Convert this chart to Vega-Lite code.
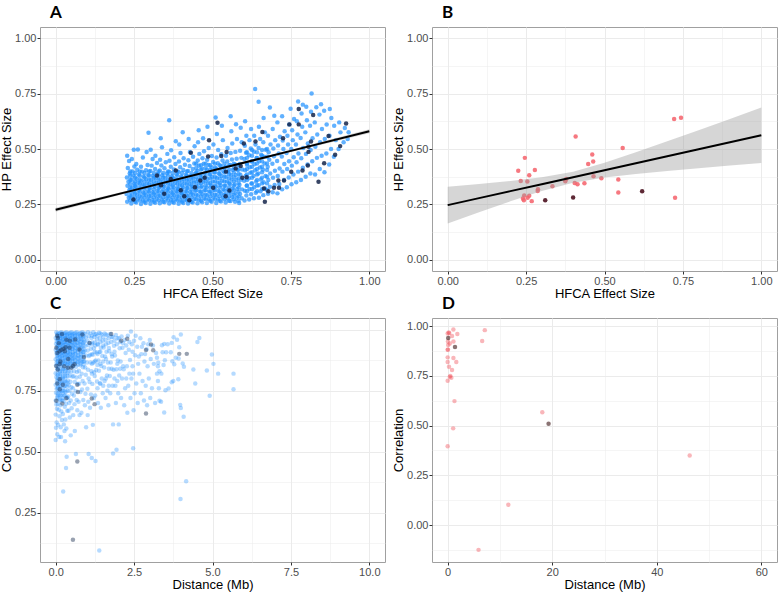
{
"$schema":"https://vega.github.io/schema/vega-lite/v6.json",
"background":"white",
"padding":{"left":0,"top":3,"right":0,"bottom":0},
"config":{
 "view":{"stroke":"#a0a0a0","strokeWidth":1},
 "axis":{"domain":false,"gridColor":"#ebebeb","tickColor":"#333333","tickSize":3,"labelPadding":1,"labelFont":"Liberation Sans","labelFontSize":11,"labelColor":"#4d4d4d","titleFont":"Liberation Sans","titleFontSize":13,"titleFontWeight":"normal","titleColor":"#000000","titlePadding":1,"labelOverlap":false,"labelFlush":false},
 "title":{"anchor":"start","frame":"group","font":"Lato","fontSize":17,"fontWeight":"bold","color":"#000000","dx":10,"offset":5.5},
 "circle":{"size":20,"strokeWidth":0}
},
"datasets":{
"aL":[
{"x":0.228,"y":0.262},{"x":0.233,"y":0.28},{"x":0.226,"y":0.297},{"x":0.235,"y":0.315},{"x":0.229,"y":0.334},{"x":0.232,"y":0.352},{"x":0.227,"y":0.372},{"x":0.236,"y":0.39},{"x":0.23,"y":0.414},{"x":0.234,"y":0.446},{"x":0.228,"y":0.47},
{"x":0.241,"y":0.254},{"x":0.247,"y":0.272},{"x":0.243,"y":0.29},{"x":0.249,"y":0.307},{"x":0.244,"y":0.326},{"x":0.25,"y":0.344},{"x":0.242,"y":0.361},{"x":0.248,"y":0.38},{"x":0.245,"y":0.399},{"x":0.251,"y":0.421},{"x":0.243,"y":0.455},{"x":0.249,"y":0.497},
{"x":0.257,"y":0.259},{"x":0.262,"y":0.276},{"x":0.259,"y":0.294},{"x":0.264,"y":0.312},{"x":0.256,"y":0.33},{"x":0.263,"y":0.348},{"x":0.258,"y":0.366},{"x":0.265,"y":0.385},{"x":0.26,"y":0.406},{"x":0.257,"y":0.432},{"x":0.262,"y":0.498},
{"x":0.272,"y":0.252},{"x":0.278,"y":0.268},{"x":0.274,"y":0.285},{"x":0.279,"y":0.303},{"x":0.271,"y":0.321},{"x":0.277,"y":0.339},{"x":0.273,"y":0.357},{"x":0.28,"y":0.376},{"x":0.275,"y":0.398},{"x":0.272,"y":0.42},{"x":0.278,"y":0.462},
{"x":0.287,"y":0.257},{"x":0.293,"y":0.273},{"x":0.288,"y":0.291},{"x":0.294,"y":0.309},{"x":0.286,"y":0.327},{"x":0.292,"y":0.345},{"x":0.289,"y":0.364},{"x":0.295,"y":0.383},{"x":0.288,"y":0.404},{"x":0.293,"y":0.428},{"x":0.29,"y":0.486},{"x":0.296,"y":0.573},
{"x":0.302,"y":0.253},{"x":0.308,"y":0.27},{"x":0.303,"y":0.288},{"x":0.309,"y":0.305},{"x":0.301,"y":0.323},{"x":0.307,"y":0.341},{"x":0.304,"y":0.36},{"x":0.31,"y":0.379},{"x":0.302,"y":0.401},{"x":0.306,"y":0.425},{"x":0.309,"y":0.455},{"x":0.303,"y":0.497},
{"x":0.317,"y":0.258},{"x":0.322,"y":0.275},{"x":0.318,"y":0.293},{"x":0.324,"y":0.311},{"x":0.316,"y":0.33},{"x":0.321,"y":0.348},{"x":0.319,"y":0.368},{"x":0.325,"y":0.388},{"x":0.317,"y":0.41},{"x":0.323,"y":0.437},{"x":0.318,"y":0.47},
{"x":0.332,"y":0.255},{"x":0.338,"y":0.272},{"x":0.333,"y":0.289},{"x":0.339,"y":0.307},{"x":0.331,"y":0.326},{"x":0.336,"y":0.344},{"x":0.334,"y":0.362},{"x":0.34,"y":0.382},{"x":0.332,"y":0.403},{"x":0.337,"y":0.426},{"x":0.333,"y":0.452},{"x":0.339,"y":0.508},{"x":0.335,"y":0.548},
{"x":0.347,"y":0.26},{"x":0.353,"y":0.277},{"x":0.348,"y":0.295},{"x":0.354,"y":0.313},{"x":0.346,"y":0.331},{"x":0.352,"y":0.35},{"x":0.349,"y":0.369},{"x":0.355,"y":0.39},{"x":0.347,"y":0.413},{"x":0.351,"y":0.44},{"x":0.356,"y":0.478},
{"x":0.362,"y":0.254},{"x":0.368,"y":0.27},{"x":0.363,"y":0.287},{"x":0.369,"y":0.304},{"x":0.361,"y":0.322},{"x":0.366,"y":0.34},{"x":0.364,"y":0.358},{"x":0.37,"y":0.377},{"x":0.362,"y":0.398},{"x":0.367,"y":0.42},{"x":0.363,"y":0.447},{"x":0.368,"y":0.494},{"x":0.362,"y":0.63},
{"x":0.377,"y":0.258},{"x":0.383,"y":0.274},{"x":0.378,"y":0.292},{"x":0.384,"y":0.31},{"x":0.376,"y":0.328},{"x":0.381,"y":0.347},{"x":0.379,"y":0.366},{"x":0.385,"y":0.386},{"x":0.377,"y":0.408},{"x":0.382,"y":0.432},{"x":0.378,"y":0.463},{"x":0.383,"y":0.535},
{"x":0.392,"y":0.253},{"x":0.398,"y":0.269},{"x":0.393,"y":0.286},{"x":0.399,"y":0.303},{"x":0.391,"y":0.321},{"x":0.396,"y":0.339},{"x":0.394,"y":0.357},{"x":0.4,"y":0.376},{"x":0.392,"y":0.396},{"x":0.397,"y":0.418},{"x":0.393,"y":0.444},{"x":0.398,"y":0.482},{"x":0.394,"y":0.52},
{"x":0.407,"y":0.257},{"x":0.413,"y":0.273},{"x":0.408,"y":0.291},{"x":0.414,"y":0.309},{"x":0.406,"y":0.327},{"x":0.411,"y":0.345},{"x":0.409,"y":0.364},{"x":0.415,"y":0.384},{"x":0.407,"y":0.405},{"x":0.412,"y":0.429},{"x":0.408,"y":0.458},{"x":0.405,"y":0.576},
{"x":0.422,"y":0.254},{"x":0.428,"y":0.27},{"x":0.423,"y":0.288},{"x":0.429,"y":0.306},{"x":0.421,"y":0.324},{"x":0.426,"y":0.342},{"x":0.424,"y":0.361},{"x":0.43,"y":0.38},{"x":0.422,"y":0.401},{"x":0.427,"y":0.423},{"x":0.423,"y":0.449},{"x":0.428,"y":0.486},{"x":0.424,"y":0.545},
{"x":0.437,"y":0.259},{"x":0.443,"y":0.276},{"x":0.438,"y":0.294},{"x":0.444,"y":0.312},{"x":0.436,"y":0.33},{"x":0.441,"y":0.349},{"x":0.439,"y":0.368},{"x":0.445,"y":0.388},{"x":0.437,"y":0.41},{"x":0.442,"y":0.435},{"x":0.438,"y":0.465},{"x":0.443,"y":0.512},
{"x":0.452,"y":0.255},{"x":0.458,"y":0.272},{"x":0.453,"y":0.29},{"x":0.459,"y":0.308},{"x":0.451,"y":0.326},{"x":0.456,"y":0.344},{"x":0.454,"y":0.363},{"x":0.46,"y":0.382},{"x":0.452,"y":0.402},{"x":0.457,"y":0.424},{"x":0.453,"y":0.448},{"x":0.458,"y":0.478},{"x":0.454,"y":0.53},{"x":0.456,"y":0.585},
{"x":0.467,"y":0.26},{"x":0.473,"y":0.278},{"x":0.468,"y":0.296},{"x":0.474,"y":0.314},{"x":0.466,"y":0.332},{"x":0.471,"y":0.351},{"x":0.469,"y":0.37},{"x":0.475,"y":0.39},{"x":0.467,"y":0.411},{"x":0.472,"y":0.434},{"x":0.468,"y":0.458},{"x":0.473,"y":0.49},{"x":0.47,"y":0.548},
{"x":0.482,"y":0.256},{"x":0.488,"y":0.273},{"x":0.483,"y":0.291},{"x":0.489,"y":0.309},{"x":0.481,"y":0.327},{"x":0.486,"y":0.346},{"x":0.484,"y":0.365},{"x":0.49,"y":0.385},{"x":0.482,"y":0.406},{"x":0.487,"y":0.428},{"x":0.483,"y":0.452},{"x":0.488,"y":0.505},{"x":0.484,"y":0.6},
{"x":0.497,"y":0.262},{"x":0.503,"y":0.28},{"x":0.498,"y":0.298},{"x":0.504,"y":0.316},{"x":0.496,"y":0.335},{"x":0.501,"y":0.354},{"x":0.499,"y":0.374},{"x":0.505,"y":0.395},{"x":0.497,"y":0.417},{"x":0.502,"y":0.441},{"x":0.498,"y":0.468},{"x":0.503,"y":0.52},{"x":0.51,"y":0.642},
{"x":0.512,"y":0.257},{"x":0.518,"y":0.275},{"x":0.513,"y":0.293},{"x":0.519,"y":0.311},{"x":0.511,"y":0.33},{"x":0.516,"y":0.349},{"x":0.514,"y":0.369},{"x":0.52,"y":0.39},{"x":0.512,"y":0.412},{"x":0.517,"y":0.436},{"x":0.513,"y":0.462},{"x":0.518,"y":0.495},{"x":0.514,"y":0.568},
{"x":0.527,"y":0.263},{"x":0.533,"y":0.281},{"x":0.528,"y":0.299},{"x":0.534,"y":0.318},{"x":0.526,"y":0.337},{"x":0.531,"y":0.357},{"x":0.529,"y":0.378},{"x":0.535,"y":0.4},{"x":0.527,"y":0.423},{"x":0.532,"y":0.448},{"x":0.528,"y":0.476},{"x":0.533,"y":0.54},{"x":0.53,"y":0.605},
{"x":0.542,"y":0.259},{"x":0.548,"y":0.277},{"x":0.543,"y":0.296},{"x":0.549,"y":0.315},{"x":0.541,"y":0.334},{"x":0.546,"y":0.354},{"x":0.544,"y":0.375},{"x":0.55,"y":0.397},{"x":0.542,"y":0.42},{"x":0.547,"y":0.444},{"x":0.543,"y":0.47},{"x":0.548,"y":0.505},{"x":0.558,"y":0.648},
{"x":0.557,"y":0.265},{"x":0.563,"y":0.284},{"x":0.558,"y":0.303},{"x":0.564,"y":0.322},{"x":0.556,"y":0.342},{"x":0.561,"y":0.362},{"x":0.559,"y":0.383},{"x":0.565,"y":0.405},{"x":0.557,"y":0.428},{"x":0.562,"y":0.453},{"x":0.558,"y":0.482},{"x":0.563,"y":0.525},{"x":0.56,"y":0.58},
{"x":0.572,"y":0.262},{"x":0.578,"y":0.281},{"x":0.573,"y":0.3},{"x":0.579,"y":0.32},{"x":0.571,"y":0.34},{"x":0.576,"y":0.361},{"x":0.574,"y":0.383},{"x":0.58,"y":0.406},{"x":0.572,"y":0.43},{"x":0.577,"y":0.456},{"x":0.573,"y":0.487},{"x":0.578,"y":0.545},{"x":0.575,"y":0.612},
{"x":0.585,"y":0.257},{"x":0.593,"y":0.278},{"x":0.588,"y":0.297},{"x":0.594,"y":0.318},{"x":0.586,"y":0.339},{"x":0.591,"y":0.361},{"x":0.589,"y":0.384},{"x":0.595,"y":0.408},{"x":0.587,"y":0.433},{"x":0.592,"y":0.46},{"x":0.588,"y":0.492},{"x":0.593,"y":0.53},{"x":0.59,"y":0.596},
{"x":0.602,"y":0.268},{"x":0.608,"y":0.29},{"x":0.603,"y":0.312},{"x":0.609,"y":0.334},{"x":0.601,"y":0.357},{"x":0.606,"y":0.38},{"x":0.604,"y":0.404},{"x":0.61,"y":0.429},{"x":0.602,"y":0.455},{"x":0.607,"y":0.483},{"x":0.603,"y":0.515},{"x":0.608,"y":0.56},{"x":0.604,"y":0.625},
{"x":0.617,"y":0.272},{"x":0.623,"y":0.296},{"x":0.618,"y":0.32},{"x":0.624,"y":0.344},{"x":0.616,"y":0.368},{"x":0.621,"y":0.393},{"x":0.619,"y":0.418},{"x":0.625,"y":0.444},{"x":0.617,"y":0.472},{"x":0.622,"y":0.502},{"x":0.618,"y":0.54},{"x":0.623,"y":0.59},
{"x":0.632,"y":0.278},{"x":0.638,"y":0.303},{"x":0.633,"y":0.328},{"x":0.639,"y":0.353},{"x":0.631,"y":0.378},{"x":0.636,"y":0.404},{"x":0.634,"y":0.431},{"x":0.64,"y":0.459},{"x":0.632,"y":0.488},{"x":0.637,"y":0.52},{"x":0.633,"y":0.56},{"x":0.636,"y":0.77},
{"x":0.648,"y":0.28},{"x":0.653,"y":0.31},{"x":0.647,"y":0.337},{"x":0.654,"y":0.363},{"x":0.646,"y":0.39},{"x":0.651,"y":0.417},{"x":0.649,"y":0.445},{"x":0.655,"y":0.474},{"x":0.647,"y":0.505},{"x":0.652,"y":0.545},{"x":0.648,"y":0.6},{"x":0.647,"y":0.713},
{"x":0.662,"y":0.292},{"x":0.668,"y":0.322},{"x":0.663,"y":0.35},{"x":0.669,"y":0.378},{"x":0.661,"y":0.406},{"x":0.666,"y":0.435},{"x":0.664,"y":0.465},{"x":0.67,"y":0.497},{"x":0.662,"y":0.53},{"x":0.667,"y":0.575},{"x":0.663,"y":0.64},
{"x":0.677,"y":0.298},{"x":0.683,"y":0.33},{"x":0.678,"y":0.36},{"x":0.684,"y":0.39},{"x":0.676,"y":0.42},{"x":0.681,"y":0.452},{"x":0.679,"y":0.485},{"x":0.685,"y":0.52},{"x":0.677,"y":0.56},{"x":0.683,"y":0.687},
{"x":0.692,"y":0.305},{"x":0.698,"y":0.338},{"x":0.693,"y":0.37},{"x":0.699,"y":0.402},{"x":0.691,"y":0.434},{"x":0.696,"y":0.467},{"x":0.694,"y":0.502},{"x":0.7,"y":0.54},{"x":0.692,"y":0.59},{"x":0.697,"y":0.65},
{"x":0.707,"y":0.3},{"x":0.713,"y":0.342},{"x":0.708,"y":0.378},{"x":0.714,"y":0.412},{"x":0.706,"y":0.446},{"x":0.711,"y":0.48},{"x":0.709,"y":0.516},{"x":0.715,"y":0.555},{"x":0.707,"y":0.62},
{"x":0.722,"y":0.318},{"x":0.728,"y":0.36},{"x":0.723,"y":0.398},{"x":0.729,"y":0.432},{"x":0.721,"y":0.466},{"x":0.726,"y":0.5},{"x":0.724,"y":0.538},{"x":0.73,"y":0.58},{"x":0.722,"y":0.648},
{"x":0.737,"y":0.328},{"x":0.743,"y":0.372},{"x":0.738,"y":0.41},{"x":0.744,"y":0.445},{"x":0.736,"y":0.482},{"x":0.741,"y":0.52},{"x":0.739,"y":0.56},{"x":0.745,"y":0.61},{"x":0.749,"y":0.681},
{"x":0.752,"y":0.341},{"x":0.758,"y":0.385},{"x":0.753,"y":0.425},{"x":0.759,"y":0.463},{"x":0.751,"y":0.5},{"x":0.756,"y":0.54},{"x":0.754,"y":0.585},{"x":0.76,"y":0.635},
{"x":0.767,"y":0.35},{"x":0.773,"y":0.398},{"x":0.768,"y":0.44},{"x":0.774,"y":0.48},{"x":0.766,"y":0.52},{"x":0.771,"y":0.565},{"x":0.769,"y":0.625},{"x":0.773,"y":0.714},
{"x":0.782,"y":0.36},{"x":0.788,"y":0.415},{"x":0.783,"y":0.458},{"x":0.789,"y":0.505},{"x":0.781,"y":0.55},{"x":0.786,"y":0.6},{"x":0.784,"y":0.66},{"x":0.788,"y":0.7},
{"x":0.797,"y":0.375},{"x":0.803,"y":0.43},{"x":0.798,"y":0.478},{"x":0.804,"y":0.525},{"x":0.796,"y":0.575},{"x":0.801,"y":0.63},{"x":0.799,"y":0.69},
{"x":0.812,"y":0.39},{"x":0.818,"y":0.445},{"x":0.813,"y":0.495},{"x":0.819,"y":0.548},{"x":0.811,"y":0.605},{"x":0.816,"y":0.75},{"x":0.814,"y":0.668},
{"x":0.827,"y":0.385},{"x":0.833,"y":0.46},{"x":0.828,"y":0.51},{"x":0.834,"y":0.565},{"x":0.826,"y":0.62},{"x":0.831,"y":0.688},
{"x":0.842,"y":0.41},{"x":0.848,"y":0.47},{"x":0.843,"y":0.53},{"x":0.849,"y":0.59},{"x":0.841,"y":0.655},{"x":0.846,"y":0.702},
{"x":0.857,"y":0.395},{"x":0.863,"y":0.48},{"x":0.858,"y":0.545},{"x":0.864,"y":0.61},{"x":0.856,"y":0.672},
{"x":0.872,"y":0.43},{"x":0.878,"y":0.5},{"x":0.873,"y":0.56},{"x":0.879,"y":0.64},{"x":0.874,"y":0.68},
{"x":0.887,"y":0.465},{"x":0.893,"y":0.54},{"x":0.888,"y":0.605},
{"x":0.902,"y":0.5},{"x":0.908,"y":0.575},{"x":0.904,"y":0.62},
{"x":0.918,"y":0.53},{"x":0.922,"y":0.595},
{"x":0.934,"y":0.576},{"x":0.931,"y":0.545},
{"x":0.238,"y":0.269},{"x":0.238,"y":0.288},{"x":0.238,"y":0.306},{"x":0.238,"y":0.324},{"x":0.238,"y":0.342},{"x":0.238,"y":0.36},{"x":0.238,"y":0.379},{"x":0.238,"y":0.399},
{"x":0.253,"y":0.262},{"x":0.253,"y":0.281},{"x":0.253,"y":0.299},{"x":0.253,"y":0.317},{"x":0.253,"y":0.335},{"x":0.253,"y":0.353},{"x":0.253,"y":0.372},{"x":0.253,"y":0.392},
{"x":0.268,"y":0.269},{"x":0.268,"y":0.288},{"x":0.268,"y":0.306},{"x":0.268,"y":0.324},{"x":0.268,"y":0.342},{"x":0.268,"y":0.36},{"x":0.268,"y":0.379},{"x":0.268,"y":0.399},
{"x":0.283,"y":0.262},{"x":0.283,"y":0.281},{"x":0.283,"y":0.299},{"x":0.283,"y":0.317},{"x":0.283,"y":0.335},{"x":0.283,"y":0.353},{"x":0.283,"y":0.372},{"x":0.283,"y":0.392},
{"x":0.298,"y":0.269},{"x":0.298,"y":0.288},{"x":0.298,"y":0.306},{"x":0.298,"y":0.324},{"x":0.298,"y":0.342},{"x":0.298,"y":0.36},{"x":0.298,"y":0.379},{"x":0.298,"y":0.399},
{"x":0.313,"y":0.262},{"x":0.313,"y":0.281},{"x":0.313,"y":0.299},{"x":0.313,"y":0.317},{"x":0.313,"y":0.335},{"x":0.313,"y":0.353},{"x":0.313,"y":0.372},{"x":0.313,"y":0.392},
{"x":0.328,"y":0.269},{"x":0.328,"y":0.288},{"x":0.328,"y":0.306},{"x":0.328,"y":0.324},{"x":0.328,"y":0.342},{"x":0.328,"y":0.36},{"x":0.328,"y":0.379},{"x":0.328,"y":0.399},
{"x":0.343,"y":0.262},{"x":0.343,"y":0.281},{"x":0.343,"y":0.299},{"x":0.343,"y":0.317},{"x":0.343,"y":0.335},{"x":0.343,"y":0.353},{"x":0.343,"y":0.372},{"x":0.343,"y":0.392},
{"x":0.358,"y":0.269},{"x":0.358,"y":0.288},{"x":0.358,"y":0.306},{"x":0.358,"y":0.324},{"x":0.358,"y":0.342},{"x":0.358,"y":0.36},{"x":0.358,"y":0.379},{"x":0.358,"y":0.399},
{"x":0.373,"y":0.262},{"x":0.373,"y":0.281},{"x":0.373,"y":0.299},{"x":0.373,"y":0.317},{"x":0.373,"y":0.335},{"x":0.373,"y":0.353},{"x":0.373,"y":0.372},{"x":0.373,"y":0.392},
{"x":0.388,"y":0.269},{"x":0.388,"y":0.288},{"x":0.388,"y":0.306},{"x":0.388,"y":0.324},{"x":0.388,"y":0.342},{"x":0.388,"y":0.36},{"x":0.388,"y":0.379},{"x":0.388,"y":0.399},
{"x":0.403,"y":0.262},{"x":0.403,"y":0.281},{"x":0.403,"y":0.299},{"x":0.403,"y":0.317},{"x":0.403,"y":0.335},{"x":0.403,"y":0.353},{"x":0.403,"y":0.372},{"x":0.403,"y":0.392},
{"x":0.418,"y":0.269},{"x":0.418,"y":0.288},{"x":0.418,"y":0.306},{"x":0.418,"y":0.324},{"x":0.418,"y":0.342},{"x":0.418,"y":0.36},{"x":0.418,"y":0.379},{"x":0.418,"y":0.399},
{"x":0.433,"y":0.262},{"x":0.433,"y":0.281},{"x":0.433,"y":0.299},{"x":0.433,"y":0.317},{"x":0.433,"y":0.335},{"x":0.433,"y":0.353},{"x":0.433,"y":0.372},{"x":0.433,"y":0.392},
{"x":0.448,"y":0.274},{"x":0.448,"y":0.294},{"x":0.448,"y":0.314},{"x":0.448,"y":0.334},{"x":0.448,"y":0.354},{"x":0.448,"y":0.374},{"x":0.448,"y":0.394},{"x":0.448,"y":0.414},{"x":0.448,"y":0.434},
{"x":0.463,"y":0.267},{"x":0.463,"y":0.287},{"x":0.463,"y":0.307},{"x":0.463,"y":0.327},{"x":0.463,"y":0.347},{"x":0.463,"y":0.367},{"x":0.463,"y":0.387},{"x":0.463,"y":0.407},{"x":0.463,"y":0.427},
{"x":0.478,"y":0.274},{"x":0.478,"y":0.294},{"x":0.478,"y":0.314},{"x":0.478,"y":0.334},{"x":0.478,"y":0.354},{"x":0.478,"y":0.374},{"x":0.478,"y":0.394},{"x":0.478,"y":0.414},{"x":0.478,"y":0.434},
{"x":0.493,"y":0.267},{"x":0.493,"y":0.287},{"x":0.493,"y":0.307},{"x":0.493,"y":0.327},{"x":0.493,"y":0.347},{"x":0.493,"y":0.367},{"x":0.493,"y":0.387},{"x":0.493,"y":0.407},{"x":0.493,"y":0.427},
{"x":0.508,"y":0.274},{"x":0.508,"y":0.294},{"x":0.508,"y":0.314},{"x":0.508,"y":0.334},{"x":0.508,"y":0.354},{"x":0.508,"y":0.374},{"x":0.508,"y":0.394},{"x":0.508,"y":0.414},{"x":0.508,"y":0.434},
{"x":0.523,"y":0.267},{"x":0.523,"y":0.287},{"x":0.523,"y":0.307},{"x":0.523,"y":0.327},{"x":0.523,"y":0.347},{"x":0.523,"y":0.367},{"x":0.523,"y":0.387},{"x":0.523,"y":0.407},{"x":0.523,"y":0.427},
{"x":0.538,"y":0.274},{"x":0.538,"y":0.294},{"x":0.538,"y":0.314},{"x":0.538,"y":0.334},{"x":0.538,"y":0.354},{"x":0.538,"y":0.374},{"x":0.538,"y":0.394},{"x":0.538,"y":0.414},{"x":0.538,"y":0.434},
{"x":0.553,"y":0.267},{"x":0.553,"y":0.287},{"x":0.553,"y":0.307},{"x":0.553,"y":0.327},{"x":0.553,"y":0.347},{"x":0.553,"y":0.367},{"x":0.553,"y":0.387},{"x":0.553,"y":0.407},{"x":0.553,"y":0.427},
{"x":0.568,"y":0.274},{"x":0.568,"y":0.294},{"x":0.568,"y":0.314},{"x":0.568,"y":0.334},{"x":0.568,"y":0.354},{"x":0.568,"y":0.374},{"x":0.568,"y":0.394},{"x":0.568,"y":0.414},{"x":0.568,"y":0.434},
{"x":0.583,"y":0.267},{"x":0.583,"y":0.287},{"x":0.583,"y":0.307},{"x":0.583,"y":0.327},{"x":0.583,"y":0.347},{"x":0.583,"y":0.367},{"x":0.583,"y":0.387},{"x":0.583,"y":0.407},{"x":0.583,"y":0.427},
{"x":0.61,"y":0.31},{"x":0.61,"y":0.335},{"x":0.61,"y":0.36},{"x":0.61,"y":0.385},{"x":0.61,"y":0.41},{"x":0.61,"y":0.435},{"x":0.61,"y":0.46},{"x":0.61,"y":0.485},
{"x":0.626,"y":0.32},{"x":0.626,"y":0.345},{"x":0.626,"y":0.37},{"x":0.626,"y":0.395},{"x":0.626,"y":0.42},{"x":0.626,"y":0.445},{"x":0.626,"y":0.47},{"x":0.626,"y":0.495},
{"x":0.642,"y":0.31},{"x":0.642,"y":0.335},{"x":0.642,"y":0.36},{"x":0.642,"y":0.385},{"x":0.642,"y":0.41},{"x":0.642,"y":0.435},{"x":0.642,"y":0.46},{"x":0.642,"y":0.485},
{"x":0.658,"y":0.32},{"x":0.658,"y":0.345},{"x":0.658,"y":0.37},{"x":0.658,"y":0.395},{"x":0.658,"y":0.42},{"x":0.658,"y":0.445},{"x":0.658,"y":0.47},{"x":0.658,"y":0.495},
{"x":0.674,"y":0.315},{"x":0.674,"y":0.345},{"x":0.674,"y":0.375},{"x":0.674,"y":0.405},{"x":0.674,"y":0.435},{"x":0.674,"y":0.465},{"x":0.674,"y":0.5}
],
"aD":[
{"x":0.516,"y":0.618},{"x":0.489,"y":0.539},{"x":0.431,"y":0.483},{"x":0.486,"y":0.466},{"x":0.545,"y":0.486},{"x":0.528,"y":0.468},{"x":0.383,"y":0.403},{"x":0.323,"y":0.381},{"x":0.367,"y":0.365},{"x":0.336,"y":0.337},{"x":0.399,"y":0.314},{"x":0.461,"y":0.358},{"x":0.475,"y":0.37},{"x":0.444,"y":0.328},{"x":0.502,"y":0.325},{"x":0.346,"y":0.298},{"x":0.41,"y":0.287},{"x":0.426,"y":0.269},{"x":0.248,"y":0.272},{"x":0.542,"y":0.287},{"x":0.59,"y":0.423},{"x":0.574,"y":0.412},{"x":0.595,"y":0.37},{"x":0.6,"y":0.525},{"x":0.554,"y":0.313},{"x":0.543,"y":0.398},{"x":0.609,"y":0.373},
{"x":0.659,"y":0.577},{"x":0.637,"y":0.534},{"x":0.664,"y":0.322},{"x":0.678,"y":0.31},{"x":0.667,"y":0.262},{"x":0.696,"y":0.325},{"x":0.712,"y":0.325},{"x":0.71,"y":0.358},{"x":0.728,"y":0.358},{"x":0.725,"y":0.548},{"x":0.745,"y":0.611},{"x":0.751,"y":0.397},{"x":0.775,"y":0.68},{"x":0.775,"y":0.611},{"x":0.787,"y":0.403},{"x":0.804,"y":0.426},{"x":0.806,"y":0.487},{"x":0.814,"y":0.534},{"x":0.821,"y":0.653},{"x":0.838,"y":0.352},{"x":0.856,"y":0.436},{"x":0.87,"y":0.559},{"x":0.891,"y":0.474},{"x":0.907,"y":0.513},{"x":0.926,"y":0.615},{"x":0.806,"y":0.51}
],
"aF":[{"x":0,"y":0.226,"lo":0.217,"hi":0.235},{"x":0.25,"y":0.3145,"lo":0.309,"hi":0.32},{"x":0.5,"y":0.403,"lo":0.399,"hi":0.407},{"x":0.75,"y":0.4915,"lo":0.486,"hi":0.497},{"x":1,"y":0.58,"lo":0.571,"hi":0.589}],
"bL":[
{"x":0.225,"y":0.402},{"x":0.233,"y":0.356},{"x":0.246,"y":0.46},{"x":0.244,"y":0.29},{"x":0.243,"y":0.269},{"x":0.24,"y":0.277},{"x":0.26,"y":0.382},{"x":0.254,"y":0.353},{"x":0.255,"y":0.28},{"x":0.26,"y":0.289},{"x":0.268,"y":0.265},{"x":0.278,"y":0.405},{"x":0.288,"y":0.319},{"x":0.287,"y":0.311},{"x":0.334,"y":0.332},{"x":0.375,"y":0.355},{"x":0.378,"y":0.365},{"x":0.408,"y":0.556},{"x":0.405,"y":0.347},{"x":0.414,"y":0.341},{"x":0.436,"y":0.346},{"x":0.448,"y":0.432},{"x":0.461,"y":0.475},{"x":0.464,"y":0.444},{"x":0.465,"y":0.377},{"x":0.49,"y":0.368},{"x":0.544,"y":0.362},{"x":0.544,"y":0.304},{"x":0.558,"y":0.505},{"x":0.722,"y":0.635},{"x":0.744,"y":0.641},{"x":0.725,"y":0.28}
],
"bD":[{"x":0.311,"y":0.269},{"x":0.4,"y":0.281},{"x":0.62,"y":0.31}],
"bF":[{"x":0,"y":0.247,"lo":0.164,"hi":0.33},{"x":0.1,"y":0.2785,"lo":0.2145,"hi":0.3425},{"x":0.2,"y":0.31,"lo":0.264,"hi":0.356},{"x":0.3,"y":0.3415,"lo":0.3105,"hi":0.3725},{"x":0.4,"y":0.373,"lo":0.348,"hi":0.398},{"x":0.5,"y":0.4045,"lo":0.3715,"hi":0.4375},{"x":0.6,"y":0.436,"lo":0.387,"hi":0.485},{"x":0.7,"y":0.4675,"lo":0.4005,"hi":0.5345},{"x":0.8,"y":0.499,"lo":0.413,"hi":0.585},{"x":0.9,"y":0.5305,"lo":0.4255,"hi":0.6355},{"x":1,"y":0.562,"lo":0.437,"hi":0.687}],
"cL":[
{"x":0.02,"y":0.99},{"x":0.04,"y":0.978},{"x":0,"y":0.966},{"x":0.03,"y":0.954},{"x":0.01,"y":0.942},{"x":0.05,"y":0.93},{"x":0,"y":0.918},{"x":0.02,"y":0.905},{"x":0.04,"y":0.892},{"x":0,"y":0.879},{"x":0.03,"y":0.866},{"x":0.01,"y":0.853},{"x":0.05,"y":0.838},{"x":0,"y":0.822},{"x":0.02,"y":0.806},{"x":0.04,"y":0.79},{"x":0,"y":0.774},{"x":0.03,"y":0.758},{"x":0.01,"y":0.742},{"x":0.05,"y":0.726},{"x":0,"y":0.71},{"x":0.02,"y":0.694},{"x":0.04,"y":0.676},{"x":0,"y":0.652},{"x":0.03,"y":0.62},{"x":0.01,"y":0.598},{"x":0.05,"y":0.572},{"x":0,"y":0.548},
{"x":0.1,"y":0.985},{"x":0.12,"y":0.973},{"x":0.08,"y":0.961},{"x":0.11,"y":0.949},{"x":0.09,"y":0.937},{"x":0.13,"y":0.925},{"x":0.07,"y":0.912},{"x":0.1,"y":0.899},{"x":0.12,"y":0.886},{"x":0.08,"y":0.873},{"x":0.11,"y":0.86},{"x":0.09,"y":0.845},{"x":0.13,"y":0.829},{"x":0.07,"y":0.813},{"x":0.1,"y":0.797},{"x":0.12,"y":0.781},{"x":0.08,"y":0.765},{"x":0.11,"y":0.748},{"x":0.09,"y":0.731},{"x":0.13,"y":0.714},{"x":0.07,"y":0.696},{"x":0.1,"y":0.672},{"x":0.12,"y":0.645},{"x":0.08,"y":0.61},{"x":0.11,"y":0.56},
{"x":0.18,"y":0.99},{"x":0.2,"y":0.978},{"x":0.16,"y":0.966},{"x":0.19,"y":0.954},{"x":0.17,"y":0.942},{"x":0.21,"y":0.93},{"x":0.15,"y":0.917},{"x":0.18,"y":0.904},{"x":0.2,"y":0.891},{"x":0.16,"y":0.878},{"x":0.19,"y":0.864},{"x":0.17,"y":0.849},{"x":0.21,"y":0.833},{"x":0.15,"y":0.817},{"x":0.18,"y":0.8},{"x":0.2,"y":0.783},{"x":0.16,"y":0.766},{"x":0.19,"y":0.748},{"x":0.17,"y":0.73},{"x":0.21,"y":0.711},{"x":0.15,"y":0.69},{"x":0.18,"y":0.665},{"x":0.2,"y":0.63},{"x":0.16,"y":0.6},
{"x":0.26,"y":0.985},{"x":0.28,"y":0.973},{"x":0.24,"y":0.961},{"x":0.27,"y":0.949},{"x":0.25,"y":0.937},{"x":0.29,"y":0.924},{"x":0.23,"y":0.911},{"x":0.26,"y":0.898},{"x":0.28,"y":0.884},{"x":0.24,"y":0.87},{"x":0.27,"y":0.855},{"x":0.25,"y":0.839},{"x":0.29,"y":0.822},{"x":0.23,"y":0.805},{"x":0.26,"y":0.787},{"x":0.28,"y":0.769},{"x":0.24,"y":0.75},{"x":0.27,"y":0.73},{"x":0.25,"y":0.708},{"x":0.29,"y":0.684},{"x":0.23,"y":0.655},{"x":0.26,"y":0.612},{"x":0.28,"y":0.585},
{"x":0.34,"y":0.99},{"x":0.36,"y":0.978},{"x":0.32,"y":0.966},{"x":0.35,"y":0.953},{"x":0.33,"y":0.94},{"x":0.37,"y":0.927},{"x":0.31,"y":0.914},{"x":0.34,"y":0.9},{"x":0.36,"y":0.886},{"x":0.32,"y":0.871},{"x":0.35,"y":0.856},{"x":0.33,"y":0.84},{"x":0.37,"y":0.823},{"x":0.31,"y":0.805},{"x":0.34,"y":0.786},{"x":0.36,"y":0.766},{"x":0.32,"y":0.745},{"x":0.35,"y":0.722},{"x":0.33,"y":0.697},{"x":0.37,"y":0.668},{"x":0.31,"y":0.632},{"x":0.34,"y":0.595},
{"x":0.42,"y":0.985},{"x":0.44,"y":0.972},{"x":0.4,"y":0.959},{"x":0.43,"y":0.946},{"x":0.41,"y":0.933},{"x":0.45,"y":0.92},{"x":0.39,"y":0.906},{"x":0.42,"y":0.892},{"x":0.44,"y":0.877},{"x":0.4,"y":0.862},{"x":0.43,"y":0.846},{"x":0.41,"y":0.829},{"x":0.45,"y":0.811},{"x":0.39,"y":0.792},{"x":0.42,"y":0.772},{"x":0.44,"y":0.75},{"x":0.4,"y":0.726},{"x":0.43,"y":0.7},{"x":0.41,"y":0.668},{"x":0.45,"y":0.64},
{"x":0.5,"y":0.99},{"x":0.52,"y":0.977},{"x":0.48,"y":0.964},{"x":0.51,"y":0.951},{"x":0.49,"y":0.937},{"x":0.53,"y":0.923},{"x":0.47,"y":0.909},{"x":0.5,"y":0.894},{"x":0.52,"y":0.879},{"x":0.48,"y":0.863},{"x":0.51,"y":0.846},{"x":0.49,"y":0.828},{"x":0.53,"y":0.808},{"x":0.47,"y":0.787},{"x":0.5,"y":0.764},{"x":0.52,"y":0.738},{"x":0.48,"y":0.71},{"x":0.51,"y":0.678},{"x":0.48,"y":0.567},
{"x":0.58,"y":0.985},{"x":0.6,"y":0.972},{"x":0.56,"y":0.958},{"x":0.59,"y":0.944},{"x":0.57,"y":0.93},{"x":0.61,"y":0.915},{"x":0.55,"y":0.9},{"x":0.58,"y":0.884},{"x":0.6,"y":0.867},{"x":0.56,"y":0.849},{"x":0.59,"y":0.83},{"x":0.57,"y":0.809},{"x":0.61,"y":0.786},{"x":0.55,"y":0.76},{"x":0.58,"y":0.73},{"x":0.6,"y":0.695},{"x":0.56,"y":0.65},{"x":0.61,"y":0.585},
{"x":0.67,"y":0.99},{"x":0.69,"y":0.976},{"x":0.65,"y":0.962},{"x":0.68,"y":0.948},{"x":0.66,"y":0.933},{"x":0.7,"y":0.918},{"x":0.64,"y":0.902},{"x":0.67,"y":0.885},{"x":0.69,"y":0.867},{"x":0.65,"y":0.848},{"x":0.68,"y":0.827},{"x":0.66,"y":0.804},{"x":0.7,"y":0.778},{"x":0.64,"y":0.748},{"x":0.67,"y":0.712},{"x":0.69,"y":0.67},{"x":0.645,"y":0.491},
{"x":0.76,"y":0.985},{"x":0.78,"y":0.971},{"x":0.74,"y":0.956},{"x":0.77,"y":0.941},{"x":0.75,"y":0.925},{"x":0.79,"y":0.909},{"x":0.73,"y":0.892},{"x":0.76,"y":0.874},{"x":0.78,"y":0.854},{"x":0.74,"y":0.832},{"x":0.77,"y":0.807},{"x":0.75,"y":0.779},{"x":0.79,"y":0.745},{"x":0.73,"y":0.705},{"x":0.76,"y":0.65},
{"x":0.85,"y":0.99},{"x":0.87,"y":0.975},{"x":0.83,"y":0.96},{"x":0.86,"y":0.944},{"x":0.84,"y":0.927},{"x":0.88,"y":0.909},{"x":0.82,"y":0.89},{"x":0.85,"y":0.869},{"x":0.87,"y":0.846},{"x":0.83,"y":0.82},{"x":0.86,"y":0.79},{"x":0.84,"y":0.755},{"x":0.88,"y":0.712},{"x":0.82,"y":0.66},
{"x":0.94,"y":0.985},{"x":0.96,"y":0.969},{"x":0.92,"y":0.952},{"x":0.95,"y":0.934},{"x":0.93,"y":0.915},{"x":0.97,"y":0.894},{"x":0.91,"y":0.871},{"x":0.94,"y":0.845},{"x":0.96,"y":0.815},{"x":0.92,"y":0.78},{"x":0.95,"y":0.738},{"x":0.93,"y":0.69},{"x":0.97,"y":0.6},
{"x":1.03,"y":0.99},{"x":1.05,"y":0.973},{"x":1.01,"y":0.955},{"x":1.04,"y":0.936},{"x":1.02,"y":0.915},{"x":1.06,"y":0.892},{"x":1,"y":0.866},{"x":1.03,"y":0.836},{"x":1.05,"y":0.8},{"x":1.01,"y":0.758},{"x":1.04,"y":0.705},{"x":1.02,"y":0.65},
{"x":1.11,"y":0.985},{"x":1.14,"y":0.966},{"x":1.08,"y":0.945},{"x":1.125,"y":0.922},{"x":1.095,"y":0.896},{"x":1.11,"y":0.866},{"x":1.14,"y":0.83},{"x":1.08,"y":0.786},{"x":1.125,"y":0.735},{"x":1.095,"y":0.68},
{"x":1.2,"y":0.99},{"x":1.23,"y":0.97},{"x":1.17,"y":0.948},{"x":1.215,"y":0.924},{"x":1.185,"y":0.897},{"x":1.2,"y":0.865},{"x":1.23,"y":0.826},{"x":1.17,"y":0.778},{"x":1.215,"y":0.72},{"x":1.185,"y":0.61},
{"x":1.29,"y":0.982},{"x":1.32,"y":0.96},{"x":1.26,"y":0.935},{"x":1.305,"y":0.907},{"x":1.275,"y":0.874},{"x":1.29,"y":0.835},{"x":1.32,"y":0.788},{"x":1.26,"y":0.73},{"x":1.27,"y":0.462},
{"x":1.38,"y":0.988},{"x":1.41,"y":0.965},{"x":1.35,"y":0.939},{"x":1.395,"y":0.909},{"x":1.365,"y":0.874},{"x":1.38,"y":0.832},{"x":1.41,"y":0.78},{"x":1.35,"y":0.7},
{"x":1.47,"y":0.98},{"x":1.5,"y":0.955},{"x":1.44,"y":0.926},{"x":1.485,"y":0.892},{"x":1.455,"y":0.851},{"x":1.47,"y":0.8},{"x":1.5,"y":0.74},{"x":1.44,"y":0.68},
{"x":1.56,"y":0.985},{"x":1.59,"y":0.958},{"x":1.53,"y":0.927},{"x":1.575,"y":0.89},{"x":1.545,"y":0.845},{"x":1.56,"y":0.79},{"x":1.59,"y":0.72},
{"x":1.65,"y":0.976},{"x":1.68,"y":0.946},{"x":1.62,"y":0.91},{"x":1.665,"y":0.866},{"x":1.635,"y":0.812},{"x":1.65,"y":0.75},{"x":1.68,"y":0.69},
{"x":1.74,"y":0.982},{"x":1.77,"y":0.95},{"x":1.71,"y":0.912},{"x":1.755,"y":0.866},{"x":1.725,"y":0.81},{"x":1.74,"y":0.74},
{"x":1.83,"y":0.97},{"x":1.86,"y":0.934},{"x":1.8,"y":0.89},{"x":1.845,"y":0.836},{"x":1.815,"y":0.77},{"x":1.83,"y":0.612},{"x":1.83,"y":0.493},
{"x":1.92,"y":0.978},{"x":1.95,"y":0.94},{"x":1.89,"y":0.894},{"x":1.935,"y":0.838},{"x":1.905,"y":0.77},{"x":1.92,"y":0.7},{"x":1.94,"y":0.508},
{"x":2.01,"y":0.965},{"x":2.04,"y":0.924},{"x":1.98,"y":0.874},{"x":2.025,"y":0.812},{"x":1.995,"y":0.74},{"x":2.01,"y":0.612},
{"x":2.1,"y":0.972},{"x":2.13,"y":0.926},{"x":2.07,"y":0.87},{"x":2.115,"y":0.8},{"x":2.085,"y":0.72},
{"x":2.2,"y":0.958},{"x":2.23,"y":0.905},{"x":2.17,"y":0.838},{"x":2.215,"y":0.76},{"x":2.185,"y":0.69},
{"x":2.3,"y":0.975},{"x":2.33,"y":0.918},{"x":2.27,"y":0.85},{"x":2.315,"y":0.77},{"x":2.285,"y":0.66},
{"x":2.4,"y":0.993},{"x":2.43,"y":0.94},{"x":2.37,"y":0.876},{"x":2.415,"y":0.8},{"x":2.385,"y":0.72},
{"x":2.47,"y":0.514},
{"x":2.5,"y":0.955},{"x":2.53,"y":0.895},{"x":2.47,"y":0.82},{"x":2.515,"y":0.74},{"x":2.485,"y":0.67},
{"x":2.6,"y":0.93},{"x":2.63,"y":0.86},{"x":2.57,"y":0.78},{"x":2.615,"y":0.7},
{"x":2.7,"y":0.965},{"x":2.73,"y":0.9},{"x":2.67,"y":0.82},{"x":2.715,"y":0.74},
{"x":2.8,"y":0.945},{"x":2.83,"y":0.87},{"x":2.77,"y":0.79},{"x":2.815,"y":0.71},
{"x":2.9,"y":0.92},{"x":2.93,"y":0.85},{"x":2.87,"y":0.77},{"x":2.915,"y":0.69},
{"x":3,"y":0.958},{"x":3.03,"y":0.88},{"x":2.97,"y":0.8},{"x":3.015,"y":0.72},
{"x":3.1,"y":0.935},{"x":3.13,"y":0.86},{"x":3.07,"y":0.76},
{"x":3.2,"y":0.905},{"x":3.23,"y":0.82},{"x":3.17,"y":0.7},
{"x":3.99,"y":0.98},{"x":3.76,"y":0.969},{"x":3.87,"y":0.959},{"x":3.7,"y":0.946},{"x":4.58,"y":0.966},{"x":4.52,"y":0.95},{"x":3.57,"y":0.94},{"x":3.46,"y":0.942},{"x":3.39,"y":0.936},{"x":3.94,"y":0.928},{"x":3.41,"y":0.908},{"x":3.52,"y":0.908},{"x":3.67,"y":0.908},{"x":3.83,"y":0.885},{"x":3.92,"y":0.882},{"x":4.05,"y":0.862},{"x":4.09,"y":0.848},{"x":3.72,"y":0.871},{"x":3.78,"y":0.858},{"x":3.48,"y":0.875},{"x":3.23,"y":0.885},{"x":3.27,"y":0.865},{"x":3.44,"y":0.855},{"x":4.98,"y":0.898},{"x":5.03,"y":0.86},{"x":4.39,"y":0.837},{"x":4.82,"y":0.833},{"x":5.18,"y":0.82},{"x":5.67,"y":0.82},{"x":5.67,"y":0.756},{"x":4.45,"y":0.78},{"x":4.91,"y":0.729},{"x":3.91,"y":0.797},{"x":3.75,"y":0.79},{"x":3.7,"y":0.785},{"x":3.6,"y":0.759},{"x":3.5,"y":0.752},{"x":3.26,"y":0.79},{"x":3.29,"y":0.76},{"x":3.31,"y":0.709},{"x":3.36,"y":0.705},{"x":3.97,"y":0.692},{"x":3.99,"y":0.679},{"x":4.08,"y":0.643},{"x":3.46,"y":0.661},{"x":3.37,"y":0.82},{"x":3.26,"y":0.85},{"x":3.31,"y":0.83},{"x":4.16,"y":0.379},{"x":3.98,"y":0.306},
{"x":0.35,"y":0.479},{"x":0.33,"y":0.433},{"x":1.05,"y":0.491},{"x":1.15,"y":0.474},{"x":0.24,"y":0.337},{"x":1.39,"y":0.095},{"x":0.3,"y":0.543},{"x":0.17,"y":0.56},
{"x":0.06,"y":0.984},{"x":0.06,"y":0.972},{"x":0.06,"y":0.96},{"x":0.06,"y":0.948},{"x":0.06,"y":0.935},{"x":0.06,"y":0.922},{"x":0.06,"y":0.909},{"x":0.06,"y":0.896},{"x":0.06,"y":0.883},{"x":0.06,"y":0.87},{"x":0.06,"y":0.857},
{"x":0.14,"y":0.987},{"x":0.14,"y":0.975},{"x":0.14,"y":0.963},{"x":0.14,"y":0.951},{"x":0.14,"y":0.938},{"x":0.14,"y":0.925},{"x":0.14,"y":0.912},{"x":0.14,"y":0.899},{"x":0.14,"y":0.886},{"x":0.14,"y":0.873},{"x":0.14,"y":0.86},
{"x":0.22,"y":0.984},{"x":0.22,"y":0.972},{"x":0.22,"y":0.96},{"x":0.22,"y":0.948},{"x":0.22,"y":0.935},{"x":0.22,"y":0.922},{"x":0.22,"y":0.909},{"x":0.22,"y":0.896},{"x":0.22,"y":0.883},{"x":0.22,"y":0.87},{"x":0.22,"y":0.857},
{"x":0.3,"y":0.987},{"x":0.3,"y":0.975},{"x":0.3,"y":0.963},{"x":0.3,"y":0.951},{"x":0.3,"y":0.938},{"x":0.3,"y":0.925},{"x":0.3,"y":0.912},{"x":0.3,"y":0.899},{"x":0.3,"y":0.886},{"x":0.3,"y":0.873},{"x":0.3,"y":0.86},
{"x":0.38,"y":0.984},{"x":0.38,"y":0.972},{"x":0.38,"y":0.96},{"x":0.38,"y":0.948},{"x":0.38,"y":0.935},{"x":0.38,"y":0.922},{"x":0.38,"y":0.909},{"x":0.38,"y":0.896},{"x":0.38,"y":0.883},{"x":0.38,"y":0.87},{"x":0.38,"y":0.857},
{"x":0.46,"y":0.987},{"x":0.46,"y":0.975},{"x":0.46,"y":0.963},{"x":0.46,"y":0.951},{"x":0.46,"y":0.938},{"x":0.46,"y":0.925},{"x":0.46,"y":0.912},{"x":0.46,"y":0.899},{"x":0.46,"y":0.886},{"x":0.46,"y":0.873},{"x":0.46,"y":0.86},
{"x":0.54,"y":0.984},{"x":0.54,"y":0.972},{"x":0.54,"y":0.96},{"x":0.54,"y":0.948},{"x":0.54,"y":0.935},{"x":0.54,"y":0.922},{"x":0.54,"y":0.909},{"x":0.54,"y":0.896},{"x":0.54,"y":0.883},{"x":0.54,"y":0.87},{"x":0.54,"y":0.857},
{"x":0.62,"y":0.987},{"x":0.62,"y":0.975},{"x":0.62,"y":0.963},{"x":0.62,"y":0.951},{"x":0.62,"y":0.938},{"x":0.62,"y":0.925},{"x":0.62,"y":0.912},{"x":0.62,"y":0.899},{"x":0.62,"y":0.886},{"x":0.62,"y":0.873},{"x":0.62,"y":0.86},
{"x":0.71,"y":0.984},{"x":0.71,"y":0.972},{"x":0.71,"y":0.96},{"x":0.71,"y":0.948},{"x":0.71,"y":0.935},{"x":0.71,"y":0.922},{"x":0.71,"y":0.909},{"x":0.71,"y":0.896},{"x":0.71,"y":0.883},{"x":0.71,"y":0.87},{"x":0.71,"y":0.857},
{"x":0.8,"y":0.987},{"x":0.8,"y":0.975},{"x":0.8,"y":0.963},{"x":0.8,"y":0.951},{"x":0.8,"y":0.938},{"x":0.8,"y":0.925},{"x":0.8,"y":0.912},{"x":0.8,"y":0.899},{"x":0.8,"y":0.886},{"x":0.8,"y":0.873},{"x":0.8,"y":0.86},
{"x":0.89,"y":0.984},{"x":0.89,"y":0.972},{"x":0.89,"y":0.96},{"x":0.89,"y":0.948},{"x":0.89,"y":0.935},{"x":0.89,"y":0.922},{"x":0.89,"y":0.909},{"x":0.89,"y":0.896},{"x":0.89,"y":0.883},{"x":0.89,"y":0.87},{"x":0.89,"y":0.857},
{"x":0.06,"y":0.84},{"x":0.06,"y":0.82},{"x":0.06,"y":0.8},{"x":0.06,"y":0.78},{"x":0.06,"y":0.76},{"x":0.06,"y":0.74},{"x":0.06,"y":0.72},
{"x":0.14,"y":0.83},{"x":0.14,"y":0.81},{"x":0.14,"y":0.79},{"x":0.14,"y":0.77},{"x":0.14,"y":0.75},{"x":0.14,"y":0.73},{"x":0.14,"y":0.71},
{"x":0.22,"y":0.84},{"x":0.22,"y":0.82},{"x":0.22,"y":0.8},{"x":0.22,"y":0.78},{"x":0.22,"y":0.76},{"x":0.22,"y":0.74},{"x":0.22,"y":0.72},
{"x":0.3,"y":0.83},{"x":0.3,"y":0.81},{"x":0.3,"y":0.79},{"x":0.3,"y":0.77},{"x":0.3,"y":0.75},{"x":0.3,"y":0.73},
{"x":0.38,"y":0.84},{"x":0.38,"y":0.81},{"x":0.38,"y":0.78},{"x":0.38,"y":0.75},{"x":0.38,"y":0.72},
{"x":1.155,"y":0.975},{"x":1.155,"y":0.94},{"x":1.155,"y":0.9},{"x":1.155,"y":0.86},{"x":1.155,"y":0.82},
{"x":1.245,"y":0.98},{"x":1.245,"y":0.948},{"x":1.245,"y":0.91},{"x":1.245,"y":0.87},{"x":1.245,"y":0.81},
{"x":1.335,"y":0.975},{"x":1.335,"y":0.94},{"x":1.335,"y":0.9},{"x":1.335,"y":0.855},{"x":1.335,"y":0.76},
{"x":1.425,"y":0.985},{"x":1.425,"y":0.95},{"x":1.425,"y":0.91},{"x":1.425,"y":0.86},{"x":1.425,"y":0.78},
{"x":1.515,"y":0.97},{"x":1.515,"y":0.935},{"x":1.515,"y":0.87},{"x":1.515,"y":0.77},
{"x":1.605,"y":0.98},{"x":1.605,"y":0.94},{"x":1.605,"y":0.88},{"x":1.605,"y":0.8},
{"x":1.695,"y":0.965},{"x":1.695,"y":0.925},{"x":1.695,"y":0.84},{"x":1.695,"y":0.77},
{"x":1.785,"y":0.97},{"x":1.785,"y":0.9},{"x":1.785,"y":0.84},
{"x":1.875,"y":0.955},{"x":1.875,"y":0.91},{"x":1.875,"y":0.8},
{"x":1.965,"y":0.965},{"x":1.965,"y":0.86},{"x":1.965,"y":0.79},
{"x":2.055,"y":0.95},{"x":2.055,"y":0.84},
{"x":2.15,"y":0.945},{"x":2.15,"y":0.85},
{"x":2.25,"y":0.935},{"x":2.25,"y":0.8},
{"x":2.35,"y":0.95},{"x":2.35,"y":0.82},
{"x":2.45,"y":0.91},{"x":2.45,"y":0.85},
{"x":2.55,"y":0.975},{"x":2.65,"y":0.89},{"x":2.75,"y":0.93},{"x":2.85,"y":0.9},{"x":2.95,"y":0.94}
],
"cD":[
{"x":0.07,"y":0.966},{"x":0.34,"y":0.959},{"x":0.2,"y":0.982},{"x":0.02,"y":0.926},{"x":0.29,"y":0.912},{"x":0.44,"y":0.926},{"x":0.76,"y":0.919},{"x":0.9,"y":0.888},{"x":0.13,"y":0.858},{"x":0.02,"y":0.851},{"x":0.07,"y":0.837},{"x":0.39,"y":0.844},{"x":0.5,"y":0.844},{"x":0.55,"y":0.851},{"x":0.6,"y":0.858},{"x":0.13,"y":0.797},{"x":0.23,"y":0.774},{"x":0.13,"y":0.756},{"x":0.02,"y":0.709},{"x":0.21,"y":0.698},{"x":0.34,"y":0.719},{"x":0.69,"y":0.774},{"x":0.71,"y":0.745},{"x":1.15,"y":0.718},{"x":1.24,"y":0.695},{"x":1.77,"y":0.982},{"x":2.09,"y":0.955},{"x":2.28,"y":0.963},{"x":1.08,"y":0.946},{"x":3.04,"y":0.939},{"x":3.11,"y":0.916},{"x":2.88,"y":0.917},{"x":3.94,"y":0.901},{"x":4.18,"y":0.901},{"x":2.88,"y":0.657},{"x":0.69,"y":0.46},{"x":0.55,"y":0.139},
{"x":0.05,"y":0.905},{"x":0.12,"y":0.912},{"x":0.18,"y":0.918},{"x":0.25,"y":0.922},{"x":0.32,"y":0.928},{"x":0.05,"y":0.975},{"x":0.1,"y":0.945},{"x":0.15,"y":0.87},{"x":0.45,"y":0.955},{"x":0.85,"y":0.98},{"x":0.62,"y":0.96},{"x":0.4,"y":0.88},{"x":0.05,"y":0.78},{"x":0.27,"y":0.85}
],
"dL":[
{"x":0.2,"y":0.968},{"x":0,"y":0.963},{"x":1.09,"y":0.983},{"x":1.85,"y":0.961},{"x":0.83,"y":0.951},{"x":0.05,"y":0.923},{"x":1.1,"y":0.923},{"x":0.4,"y":0.913},{"x":0,"y":0.881},{"x":0,"y":0.843},{"x":1.1,"y":0.84},{"x":0,"y":0.82},{"x":1.65,"y":0.82},{"x":0.25,"y":0.796},{"x":0.83,"y":0.78},{"x":0.5,"y":0.75},{"x":0.7,"y":0.74},{"x":0,"y":0.725},{"x":1.3,"y":0.623},{"x":1.05,"y":0.486},{"x":0,"y":0.396},{"x":7.1,"y":0.98},{"x":6.6,"y":0.925},{"x":18.1,"y":0.567},{"x":46.3,"y":0.349},{"x":11.6,"y":0.102},{"x":5.9,"y":-0.125},{"x":0.1,"y":0.905},{"x":0.3,"y":0.965},{"x":0.05,"y":0.882},{"x":0.4,"y":0.745}
],
"dD":[{"x":0.1,"y":0.94},{"x":1.4,"y":0.895},{"x":19.3,"y":0.509}]
},
"concat":[
{
 "width":345,"height":244,"title":"A",
 "encoding":{
  "x":{"field":"x","type":"quantitative","scale":{"domain":[-0.05,1.05],"nice":false,"zero":false},"axis":{"title":"HFCA Effect Size","values":[0,0.125,0.25,0.375,0.5,0.625,0.75,0.875,1],"labelExpr":"datum.value*8%2==0 ? format(datum.value,'.2f') : ''","tickOpacity":{"condition":{"test":"datum.value*8%2==0","value":1},"value":0},"gridWidth":{"condition":{"test":"datum.value*8%2==0","value":1},"value":0.5}}},
  "y":{"field":"y","type":"quantitative","scale":{"domain":[-0.05,1.05],"nice":false,"zero":false},"axis":{"title":"HP Effect Size","values":[0,0.125,0.25,0.375,0.5,0.625,0.75,0.875,1],"labelExpr":"datum.value*8%2==0 ? format(datum.value,'.2f') : ''","tickOpacity":{"condition":{"test":"datum.value*8%2==0","value":1},"value":0},"gridWidth":{"condition":{"test":"datum.value*8%2==0","value":1},"value":0.5}}}
 },
 "layer":[
  {"data":{"name":"aL"},"mark":{"type":"circle","color":"#1E90FF","opacity":0.7}},
  {"data":{"name":"aD"},"mark":{"type":"circle","color":"#14254a","opacity":0.85}},
  {"data":{"name":"aF"},"mark":{"type":"area","color":"#999999","opacity":0.4},"encoding":{"y":{"field":"lo","type":"quantitative","title":"HP Effect Size"},"y2":{"field":"hi"}}},
  {"data":{"name":"aF"},"mark":{"type":"line","color":"#000000","strokeWidth":2},"encoding":{}}
 ]
},
{
 "width":345,"height":244,"title":"B",
 "encoding":{
  "x":{"field":"x","type":"quantitative","scale":{"domain":[-0.05,1.05],"nice":false,"zero":false},"axis":{"title":"HFCA Effect Size","values":[0,0.125,0.25,0.375,0.5,0.625,0.75,0.875,1],"labelExpr":"datum.value*8%2==0 ? format(datum.value,'.2f') : ''","tickOpacity":{"condition":{"test":"datum.value*8%2==0","value":1},"value":0},"gridWidth":{"condition":{"test":"datum.value*8%2==0","value":1},"value":0.5}}},
  "y":{"field":"y","type":"quantitative","scale":{"domain":[-0.05,1.05],"nice":false,"zero":false},"axis":{"title":"HP Effect Size","values":[0,0.125,0.25,0.375,0.5,0.625,0.75,0.875,1],"labelExpr":"datum.value*8%2==0 ? format(datum.value,'.2f') : ''","tickOpacity":{"condition":{"test":"datum.value*8%2==0","value":1},"value":0},"gridWidth":{"condition":{"test":"datum.value*8%2==0","value":1},"value":0.5}}}
 },
 "layer":[
  {"data":{"name":"bL"},"mark":{"type":"circle","color":"#f5606a","opacity":0.85}},
  {"data":{"name":"bD"},"mark":{"type":"circle","color":"#4d1220","opacity":0.9}},
  {"data":{"name":"bF"},"mark":{"type":"area","color":"#999999","opacity":0.4},"encoding":{"y":{"field":"lo","type":"quantitative","title":"HP Effect Size"},"y2":{"field":"hi"}}},
  {"data":{"name":"bF"},"mark":{"type":"line","color":"#000000","strokeWidth":2},"encoding":{}}
 ]
},
{
 "width":345,"height":244,"title":"C",
 "encoding":{
  "x":{"field":"x","type":"quantitative","scale":{"domain":[-0.5,10.5],"nice":false,"zero":false},"axis":{"title":"Distance (Mb)","values":[0,1.25,2.5,3.75,5,6.25,7.5,8.75,10],"labelExpr":"datum.value/1.25%2==0 ? format(datum.value,'.1f') : ''","tickOpacity":{"condition":{"test":"datum.value/1.25%2==0","value":1},"value":0},"gridWidth":{"condition":{"test":"datum.value/1.25%2==0","value":1},"value":0.5}}},
  "y":{"field":"y","type":"quantitative","scale":{"domain":[0.048,1.048],"nice":false,"zero":false},"axis":{"title":"Correlation","values":[0.125,0.25,0.375,0.5,0.625,0.75,0.875,1],"labelExpr":"datum.value*8%2==0 ? format(datum.value,'.2f') : ''","tickOpacity":{"condition":{"test":"datum.value*8%2==0","value":1},"value":0},"gridWidth":{"condition":{"test":"datum.value*8%2==0","value":1},"value":0.5}}}
 },
 "layer":[
  {"data":{"name":"cL"},"mark":{"type":"circle","color":"#1E90FF","opacity":0.33}},
  {"data":{"name":"cD"},"mark":{"type":"circle","color":"#1a2e50","opacity":0.45}}
 ]
},
{
 "width":345,"height":244,"title":"D",
 "encoding":{
  "x":{"field":"x","type":"quantitative","scale":{"domain":[-3,63],"nice":false,"zero":false},"axis":{"title":"Distance (Mb)","values":[0,10,20,30,40,50,60],"labelExpr":"datum.value%20==0 ? format(datum.value,'d') : ''","tickOpacity":{"condition":{"test":"datum.value%20==0","value":1},"value":0},"gridWidth":{"condition":{"test":"datum.value%20==0","value":1},"value":0.5}}},
  "y":{"field":"y","type":"quantitative","scale":{"domain":[-0.186,1.041],"nice":false,"zero":false},"axis":{"title":"Correlation","values":[-0.125,0,0.125,0.25,0.375,0.5,0.625,0.75,0.875,1],"labelExpr":"datum.value*8%2==0 ? format(datum.value,'.2f') : ''","tickOpacity":{"condition":{"test":"datum.value*8%2==0","value":1},"value":0},"gridWidth":{"condition":{"test":"datum.value*8%2==0","value":1},"value":0.5}}}
 },
 "layer":[
  {"data":{"name":"dL"},"mark":{"type":"circle","color":"#f0505a","opacity":0.42}},
  {"data":{"name":"dD"},"mark":{"type":"circle","color":"#2a0000","opacity":0.55}}
 ]
}
],
"columns":2,
"spacing":{"row":47,"column":47},
"bounds":"flush"
}
